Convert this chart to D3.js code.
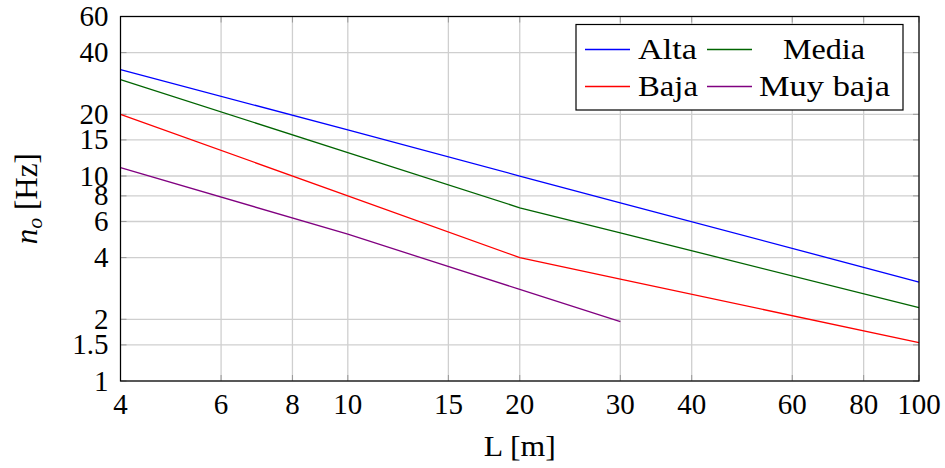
<!DOCTYPE html>
<html>
<head>
<meta charset="utf-8">
<script src="https://cdn.jsdelivr.net/npm/d3@7"></script>
<style>
  body { margin: 0; background: #fff; }
  text { font-family: "Liberation Serif", "DejaVu Serif", serif; fill: #000; }
</style>
</head>
<body>
<script>
// DATA
var lengths = [4, 10, 20, 30, 100];
var alta = [33, 16.8, 10, 7.4, 3.04];
var media = [29.5, 13, 7, 5.28, 2.28];
var baja = [20, 8, 4, 3.14, 1.54];
var muyBaja = [11, 5.2, 2.8, 1.95, null];
var xTicks = [4, 6, 8, 10, 15, 20, 30, 40, 60, 80, 100];
var yTicks = [1, 1.5, 2, 4, 6, 8, 10, 15, 20, 40, 60];

var series = [
  {name: "Alta", values: alta, color: "#0000ff"},
  {name: "Media", values: media, color: "#006400"},
  {name: "Baja", values: baja, color: "#ff0000"},
  {name: "Muy baja", values: muyBaja, color: "#800080"}
];

// D3
var svg = d3.select("body")
    .append("svg")
    .attr("width", 945)
    .attr("height", 468);

const margin = {top: 16.5, right: 26, bottom: 87, left: 120.5};
const width = 945 - margin.left - margin.right;
const height = 468 - margin.top - margin.bottom;

const xScale = d3.scaleLog().domain([4, 100]).range([0, width]);
const yScale = d3.scaleLog().domain([1, 60]).range([height, 0]);

const g = svg.append("g")
    .attr("transform", "translate(" + margin.left + "," + margin.top + ")");

// grid
g.selectAll(".xgrid").data(xTicks).enter().append("line")
    .attr("x1", d => xScale(d)).attr("x2", d => xScale(d))
    .attr("y1", 0).attr("y2", height)
    .attr("stroke", "#cfcfcf").attr("stroke-width", 1.3);
g.selectAll(".ygrid").data(yTicks).enter().append("line")
    .attr("y1", d => yScale(d)).attr("y2", d => yScale(d))
    .attr("x1", 0).attr("x2", width)
    .attr("stroke", "#cfcfcf").attr("stroke-width", 1.3);

// inner ticks on all four sides
var tk = 6;
xTicks.forEach(function(d) {
  g.append("line").attr("x1", xScale(d)).attr("x2", xScale(d))
    .attr("y1", height).attr("y2", height - tk).attr("stroke", "#999");
  g.append("line").attr("x1", xScale(d)).attr("x2", xScale(d))
    .attr("y1", 0).attr("y2", tk).attr("stroke", "#999");
});
yTicks.forEach(function(d) {
  g.append("line").attr("y1", yScale(d)).attr("y2", yScale(d))
    .attr("x1", 0).attr("x2", tk).attr("stroke", "#999");
  g.append("line").attr("y1", yScale(d)).attr("y2", yScale(d))
    .attr("x1", width).attr("x2", width - tk).attr("stroke", "#999");
});

// lines
var line = d3.line()
    .defined(d => d[1] != null)
    .x(d => xScale(d[0]))
    .y(d => yScale(d[1]));

series.forEach(function(s) {
  g.append("path")
    .datum(lengths.map((l, i) => [l, s.values[i]]))
    .attr("d", line)
    .attr("fill", "none")
    .attr("stroke", s.color)
    .attr("stroke-width", 1.3);
});

// frame
g.append("rect").attr("width", width).attr("height", height)
    .attr("fill", "none").attr("stroke", "#000").attr("stroke-width", 1.2);

// tick labels
g.selectAll(".xlab").data(xTicks).enter().append("text")
    .attr("x", d => xScale(d)).attr("y", height + 33)
    .attr("text-anchor", "middle").attr("font-size", 29)
    .text(d => d);
g.selectAll(".ylab").data(yTicks).enter().append("text")
    .attr("x", -12).attr("y", d => yScale(d) + 9.5)
    .attr("text-anchor", "end").attr("font-size", 29)
    .text(d => d);

// axis labels
g.append("text")
    .attr("x", width / 2).attr("y", height + 75)
    .attr("text-anchor", "middle").attr("font-size", 30)
    .attr("textLength", 72).attr("lengthAdjust", "spacingAndGlyphs")
    .text("L [m]");

var yl = svg.append("text")
    .attr("transform", "translate(37," + (margin.top + height / 2) + ") rotate(-90)")
    .attr("text-anchor", "middle").attr("font-size", 31);
yl.append("tspan").attr("font-style", "italic").text("n");
yl.append("tspan").attr("font-style", "italic").attr("font-size", 22).attr("dy", 5).text("o");
yl.append("tspan").attr("dy", -5).text(" [Hz]");

// legend
var lg = svg.append("g").attr("transform", "translate(576,24.5)");
lg.append("rect").attr("width", 327).attr("height", 85.5)
    .attr("fill", "#fff").attr("stroke", "#000").attr("stroke-width", 1.2);
var legendPos = [
  {lx: 9, tx: 62, y: 25, w: 59},
  {lx: 131, tx: 207, y: 25, w: 82},
  {lx: 9, tx: 62, y: 62, w: 60},
  {lx: 131, tx: 183, y: 62, w: 131}
];
series.forEach(function(s, i) {
  var p = legendPos[i];
  lg.append("line").attr("x1", p.lx).attr("x2", p.lx + 45)
    .attr("y1", p.y).attr("y2", p.y)
    .attr("stroke", s.color).attr("stroke-width", 1.3);
  lg.append("text").attr("x", p.tx).attr("y", p.y + 9.5)
    .attr("font-size", 30)
    .attr("textLength", p.w).attr("lengthAdjust", "spacingAndGlyphs")
    .text(s.name);
});
</script>
</body>
</html>
